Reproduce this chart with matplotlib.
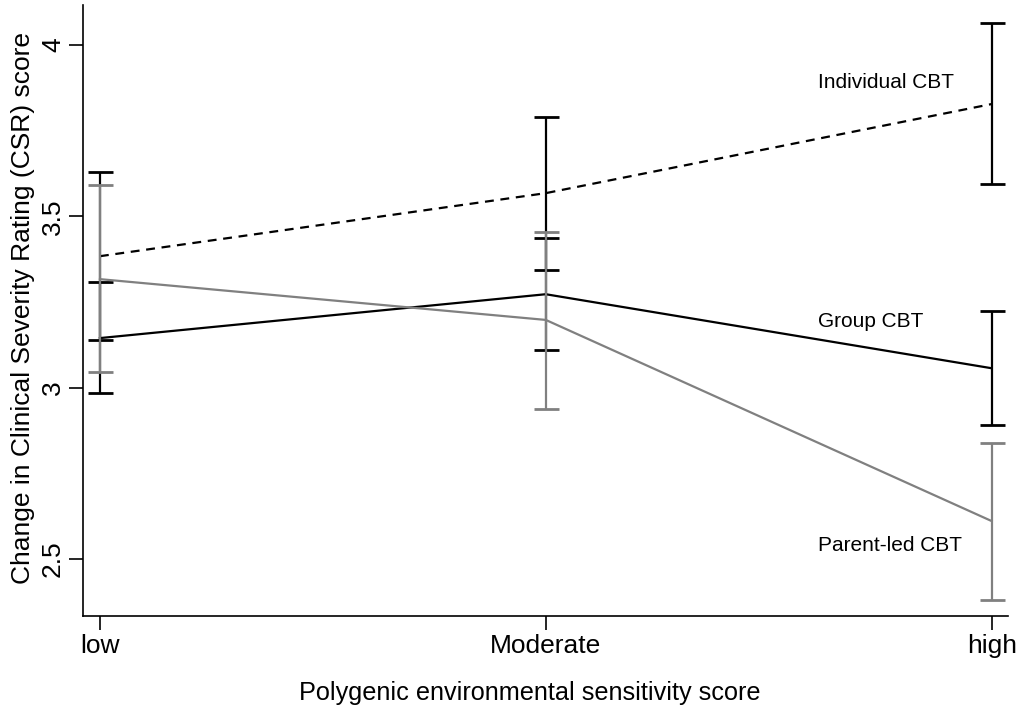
"""
Change in CSR score by polygenic environmental sensitivity, per treatment type.
"""
import numpy as np
import matplotlib
matplotlib.use("Agg")
import matplotlib.pyplot as plt

plt.rcParams['font.family'] = ['Liberation Sans', 'DejaVu Sans']

categories = ['low', 'Moderate', 'high']

# point estimates and 95% CI bounds
individual = [3.384, 3.568, 3.828]
individual_lo = [3.139, 3.343, 3.594]
individual_hi = [3.629, 3.790, 4.064]

group = [3.145, 3.273, 3.057]
group_lo = [2.984, 3.110, 2.891]
group_hi = [3.308, 3.437, 3.224]

parent = [3.317, 3.198, 2.611]
parent_lo = [3.046, 2.938, 2.380]
parent_hi = [3.591, 3.454, 2.839]

series = [
    ('Individual CBT', individual, individual_lo, individual_hi, 'black', '--'),
    ('Group CBT', group, group_lo, group_hi, 'black', '-'),
    ('Parent-led CBT', parent, parent_lo, parent_hi, '#808080', '-'),
]

fig = plt.figure(figsize=(10.22, 7.19), dpi=100)
ax = fig.add_axes([0.0812, 0.1433, 0.9048, 0.8497])

x = np.arange(len(categories))
for name, est, lo, hi, color, ls in series:
    est = np.array(est)
    yerr = [est - np.array(lo), np.array(hi) - est]
    ax.errorbar(x, est, yerr=yerr, fmt='none', ecolor=color, elinewidth=1.6,
                capsize=9, capthick=2)
    ax.plot(x, est, color=color, linestyle=ls, linewidth=1.6,
            dashes=(4, 3) if ls == '--' else (None, None))

# series labels next to the high end
ax.text(1.61, 3.892, 'Individual CBT', fontsize=15, va='center', ha='left')
ax.text(1.61, 3.192, 'Group CBT', fontsize=15, va='center', ha='left')
ax.text(1.61, 2.541, 'Parent-led CBT', fontsize=15, va='center', ha='left')

ax.set_xlim(-0.038, 2.036)
ax.set_ylim(2.334, 4.117)
ax.set_xticks(x)
ax.set_xticklabels(categories, fontsize=19)
ax.set_yticks([2.5, 3, 3.5, 4])
ax.set_yticklabels(['2.5', '3', '3.5', '4'], fontsize=19, rotation=90, va='center')
ax.tick_params(direction='out', length=10, width=1.2)
ax.tick_params(axis='x', pad=3)
ax.tick_params(axis='y', pad=3)

for side in ['top', 'right']:
    ax.spines[side].set_visible(False)
for side in ['left', 'bottom']:
    ax.spines[side].set_linewidth(1.2)

# axis titles placed in figure coords to sit where the original has them
fig.text(530 / 1022, 1 - 693 / 719, 'Polygenic environmental sensitivity score',
         fontsize=18.2, ha='center', va='center')
fig.text(23 / 1022, 1 - 308 / 719, 'Change in Clinical Severity Rating (CSR) score',
         fontsize=19, ha='center', va='center', rotation=90)

fig.savefig('out.png', dpi=100)
